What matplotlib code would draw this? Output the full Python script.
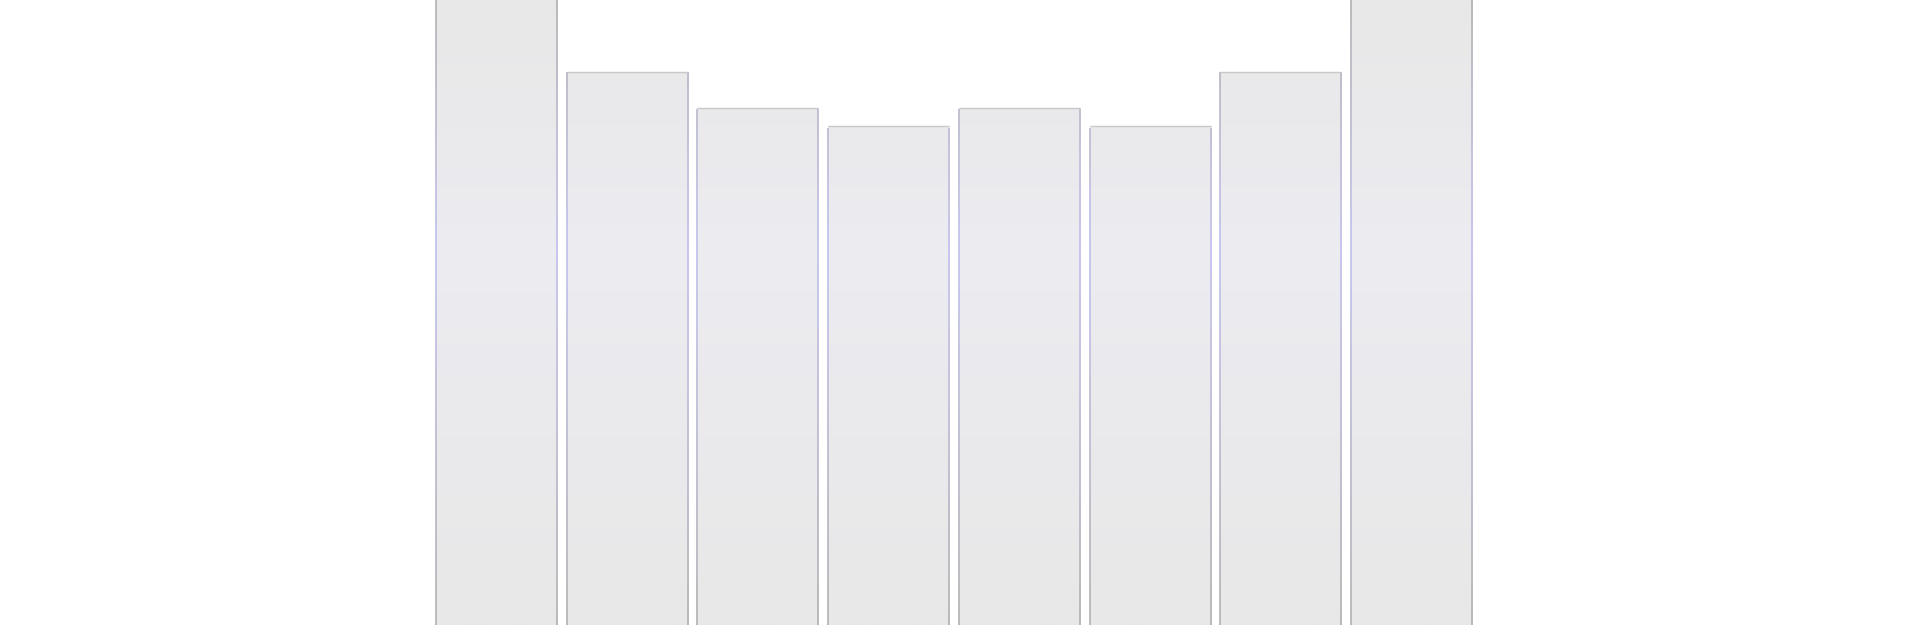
import numpy as np
import matplotlib.pyplot as plt
from matplotlib.colors import LinearSegmentedColormap
from matplotlib.collections import LineCollection

# bar values (axis runs 0..100, outer bars run past the top)
positions = [0, 1, 2, 3, 4, 5, 6, 7]
values = [104.0, 88.5, 82.8, 79.9, 82.8, 79.9, 88.5, 104.0]

fill_cmap = LinearSegmentedColormap.from_list(
    "fill", [(0.0, "#e8e8e8"), (0.4, "#ececf1"), (1.0, "#e8e8e8")])
edge_cmap = LinearSegmentedColormap.from_list(
    "edge", [(0.0, "#b6b6b6"), (0.4, "#c4c4ee"), (1.0, "#b6b6b6")])

fig = plt.figure(figsize=(19.14, 6.25), dpi=100)
ax = fig.add_axes([0, 0, 1, 1])
ax.set_xlim(-3.799, 10.845)
ax.set_ylim(0, 100)
ax.axis("off")

width = 0.926
bars = ax.bar(positions, values, width=width, facecolor="none", edgecolor="none")

grad = np.linspace(0, 1, 256).reshape(-1, 1)  # 0 at top -> 1 at bottom
xl, yl = ax.get_xlim(), ax.get_ylim()
for b in bars:
    im = ax.imshow(grad, cmap=fill_cmap, aspect="auto",
                   extent=[xl[0], xl[1], yl[0], yl[1]], origin="upper",
                   vmin=0, vmax=1, zorder=1)
    im.set_clip_path(b)

# edges with a vertical colour gradient
ys = np.linspace(0, 100, 201)
for x, v in zip(positions, values):
    top = min(v, 100)
    yy = ys[ys <= top]
    for ex in (x - width / 2, x + width / 2):
        pts = np.column_stack([np.full_like(yy, ex), yy])
        segs = np.stack([pts[:-1], pts[1:]], axis=1)
        frac = 1 - (yy[:-1] + yy[1:]) / 2 / 100
        lc = LineCollection(segs, colors=edge_cmap(frac), linewidths=1.3, zorder=2)
        ax.add_collection(lc)
    if v < 100:
        ax.plot([x - width / 2, x + width / 2], [v, v], color="#c8c8c8",
                lw=1.0, zorder=2, solid_capstyle="butt")

ax.set_xlim(xl)
ax.set_ylim(yl)
fig.savefig("out.png", dpi=100)
